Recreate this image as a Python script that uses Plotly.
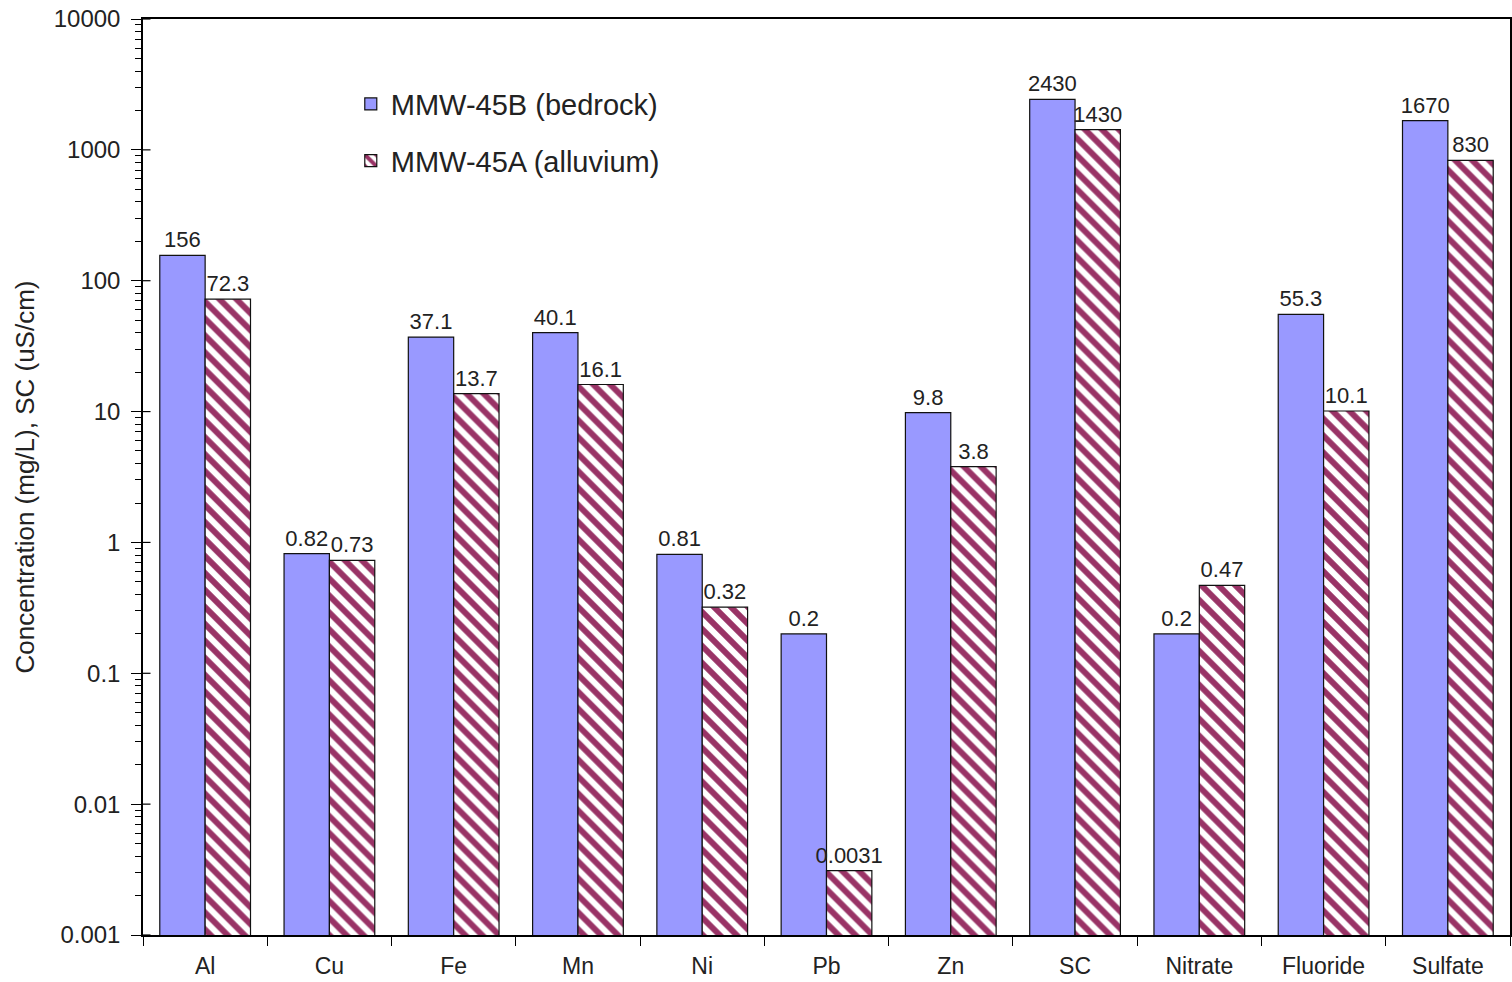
import plotly.graph_objects as go

categories = ["Al", "Cu", "Fe", "Mn", "Ni", "Pb", "Zn", "SC", "Nitrate", "Fluoride", "Sulfate"]
bedrock = [156, 0.82, 37.1, 40.1, 0.81, 0.2, 9.8, 2430, 0.2, 55.3, 1670]
alluvium = [72.3, 0.73, 13.7, 16.1, 0.32, 0.0031, 3.8, 1430, 0.47, 10.1, 830]
bedrock_labels = ["156", "0.82", "37.1", "40.1", "0.81", "0.2", "9.8", "2430", "0.2", "55.3", "1670"]
alluvium_labels = ["72.3", "0.73", "13.7", "16.1", "0.32", "0.0031", "3.8", "1430", "0.47", "10.1", "830"]
ytick_vals = [0.001, 0.01, 0.1, 1, 10, 100, 1000, 10000]
ytick_text = ["0.001", "0.01", "0.1", "1", "10", "100", "1000", "10000"]

FONT = "Liberation Sans, Arial, sans-serif"
TXT = "#222222"
minor_vals = [k * 10 ** e for e in range(-3, 4) for k in range(2, 10)]

fig = go.Figure()
fig.add_trace(go.Bar(
    x=categories, y=bedrock, name="MMW-45B (bedrock)",
    text=bedrock_labels, textposition="outside", cliponaxis=False, constraintext="none",
    textfont=dict(size=22, color=TXT, family=FONT),
    marker=dict(color="#9999FF", line=dict(color="#111111", width=1.2)),
    legendgroup="a",
))
fig.add_trace(go.Bar(
    x=categories, y=alluvium, name="MMW-45A (alluvium)",
    text=alluvium_labels, textposition="outside", cliponaxis=False, constraintext="none",
    textfont=dict(size=22, color=TXT, family=FONT),
    marker=dict(color="white", line=dict(color="#111111", width=1.2),
                pattern=dict(shape="\\", fgcolor="#993366", bgcolor="white",
                             size=12, solidity=0.5, fillmode="replace", fgopacity=1)),
    legendgroup="b",
))

# inner half of the major y ticks (they cross the axis in the original)
for v in ytick_vals:
    fig.add_shape(type="line", xref="paper", yref="y", x0=0, x1=0.0055, y0=v, y1=v,
                  line=dict(color="black", width=1.2), layer="above")

fig.update_layout(
    width=1512, height=982,
    margin=dict(l=143, r=2, t=19, b=47),
    paper_bgcolor="white", plot_bgcolor="white",
    font=dict(family=FONT, size=22, color=TXT),
    barmode="group", bargap=0.27, bargroupgap=0,
    legend=dict(x=0.152, y=0.935, xanchor="left", yanchor="top",
                font=dict(size=29, family=FONT, color=TXT),
                bgcolor="rgba(0,0,0,0)", traceorder="grouped", tracegroupgap=16),
    showlegend=True,
)
fig.update_xaxes(
    automargin=False,
    showline=True, linecolor="black", linewidth=1.5, mirror=True,
    ticks="outside", tickson="boundaries", ticklen=9, tickcolor="black",
    ticklabelstandoff=10, ticklabeloverflow="allow",
    tickfont=dict(size=23, family=FONT, color=TXT),
    showgrid=False,
)
fig.update_yaxes(
    automargin=False,
    type="log", range=[-3, 4],
    showline=True, linecolor="black", linewidth=1.5, mirror=True,
    tickmode="array", tickvals=ytick_vals, ticktext=ytick_text,
    ticks="outside", ticklen=10, tickcolor="black",
    ticklabelstandoff=6, ticklabeloverflow="allow",
    tickfont=dict(size=24, family=FONT, color=TXT),
    minor=dict(ticks="outside", ticklen=6, tickcolor="black", tickmode="array",
               tickvals=minor_vals, showgrid=False),
    showgrid=False, zeroline=False,
    title=dict(text="Concentration (mg/L), SC (uS/cm)", font=dict(size=26, family=FONT, color=TXT), standoff=12),
)

# remove the browser's default 8px body margin so the figure fills the window exactly
fig.write_html("out.html", config={"displayModeBar": False},
               post_script="document.body.style.margin='0';")
